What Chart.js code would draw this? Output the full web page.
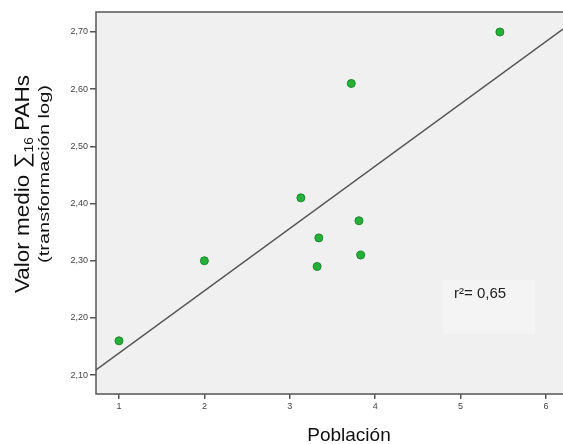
<!DOCTYPE html>
<html>
<head>
<meta charset="utf-8">
<script src="https://cdn.jsdelivr.net/npm/chart.js@4.4.1/dist/chart.umd.min.js"></script>
<style>
  body { margin: 0; background: #fff; }
  #wrap { width: 563px; height: 444px; }
</style>
</head>
<body>
<div id="wrap"><canvas id="scatter" width="563" height="444"></canvas></div>
<script>
// Data
const poblacion = [1, 2, 3.13, 3.32, 3.34, 3.72, 3.81, 3.83, 5.46];
const valorMedio = [2.16, 2.30, 2.41, 2.29, 2.34, 2.61, 2.37, 2.31, 2.70];
// fitted line, end points at the plot edges
const ajusteX = [0.731, 6.199];
const ajusteY = [2.109, 2.705];
const xTicks = [1, 2, 3, 4, 5, 6];
const yTicks = [2.10, 2.20, 2.30, 2.40, 2.50, 2.60, 2.70];
const r2Label = 'r²= 0,65';

const FONT = '"Liberation Sans", Arial, sans-serif';

// draw text centred on 0 and stretched to a given width
function fitText(ctx, text, width, y) {
    const w = ctx.measureText(text).width;
    ctx.save();
    ctx.scale(width / w, 1);
    ctx.textAlign = 'center';
    ctx.fillText(text, 0, y);
    ctx.restore();
}

const framePlugin = {
    id: 'frame',
    beforeDraw(chart) {
        const { ctx, chartArea: a } = chart;
        ctx.save();
        ctx.fillStyle = '#f0f0f0';
        ctx.fillRect(a.left, a.top, a.right - a.left, a.bottom - a.top);
        ctx.restore();
    },
    beforeDatasetsDraw(chart) {
        const { ctx } = chart;
        // faint box behind the r² label
        ctx.save();
        ctx.fillStyle = '#f4f4f4';
        ctx.fillRect(443, 280, 92, 54);
        ctx.restore();
    },
    afterDraw(chart) {
        const { ctx, chartArea: a } = chart;
        ctx.save();
        // frame: left, top, bottom (right side is cut off)
        ctx.strokeStyle = '#555';
        ctx.lineWidth = 1.5;
        ctx.beginPath();
        ctx.moveTo(a.right + 2, a.top);
        ctx.lineTo(a.left, a.top);
        ctx.lineTo(a.left, a.bottom);
        ctx.lineTo(a.right + 2, a.bottom);
        ctx.stroke();

        // r² label
        ctx.fillStyle = '#222';
        ctx.font = '15px ' + FONT;
        ctx.textAlign = 'left';
        ctx.textBaseline = 'middle';
        ctx.fillText(r2Label, 454, 294);

        // x title
        ctx.fillStyle = '#111';
        ctx.font = '19px ' + FONT;
        ctx.textAlign = 'center';
        ctx.textBaseline = 'middle';
        ctx.fillText('Población', 349, 436);

        // y title, first line with subscript
        ctx.save();
        ctx.translate(21, 184);
        ctx.rotate(-Math.PI / 2);
        const p1 = 'Valor medio ∑', p2 = '16', p3 = ' PAHs';
        ctx.font = '21px ' + FONT;
        const w1 = ctx.measureText(p1).width;
        const w3 = ctx.measureText(p3).width;
        ctx.font = '13px ' + FONT;
        const w2 = ctx.measureText(p2).width;
        const k = 218 / (w1 + w2 + w3);
        ctx.scale(k, 1);
        const x0 = -(w1 + w2 + w3) / 2;
        ctx.textAlign = 'left';
        ctx.textBaseline = 'alphabetic';
        ctx.font = '21px ' + FONT;
        ctx.fillText(p1, x0, 8);
        ctx.font = '13px ' + FONT;
        ctx.fillText(p2, x0 + w1, 12);
        ctx.font = '21px ' + FONT;
        ctx.fillText(p3, x0 + w1 + w2, 8);
        ctx.restore();

        // y title, second line
        ctx.save();
        ctx.translate(45, 174);
        ctx.rotate(-Math.PI / 2);
        ctx.font = '15px ' + FONT;
        ctx.textBaseline = 'middle';
        fitText(ctx, '(transformación log)', 178, 0);
        ctx.restore();

        ctx.restore();
    }
};

new Chart(document.getElementById('scatter'), {
    type: 'scatter',
    data: {
        datasets: [
            {
                label: 'Ajuste',
                type: 'line',
                data: ajusteX.map((x, i) => ({ x: x, y: ajusteY[i] })),
                borderColor: '#555',
                borderWidth: 1.5,
                pointRadius: 0,
                fill: false,
                order: 2
            },
            {
                label: 'Poblaciones',
                data: poblacion.map((x, i) => ({ x: x, y: valorMedio[i] })),
                backgroundColor: '#25b03a',
                borderColor: '#1b8a2b',
                borderWidth: 1,
                pointRadius: 4,
                order: 1
            }
        ]
    },
    options: {
        responsive: false,
        animation: false,
        layout: { autoPadding: false, padding: { top: 12, right: 0, left: 0, bottom: 0 } },
        plugins: {
            legend: { display: false },
            tooltip: { enabled: false }
        },
        scales: {
            x: {
                type: 'linear',
                min: 0.731,
                max: 6.199,
                afterBuildTicks: scale => { scale.ticks = xTicks.map(v => ({ value: v })); },
                afterFit: scale => {
                    scale.height = 50;
                    scale.paddingLeft = 0;
                    scale.paddingRight = 0;
                },
                border: { display: false },
                grid: { drawOnChartArea: false, tickLength: 5, color: '#555', lineWidth: 1.5 },
                ticks: {
                    padding: 2,
                    color: '#444',
                    font: { size: 9, family: FONT },
                    callback: v => String(v)
                }
            },
            y: {
                min: 2.067,
                max: 2.735,
                afterBuildTicks: scale => { scale.ticks = yTicks.map(v => ({ value: v })); },
                afterFit: scale => {
                    scale.width = 96;
                    scale.paddingTop = 0;
                    scale.paddingBottom = 0;
                },
                border: { display: false },
                grid: { drawOnChartArea: false, tickLength: 6, color: '#555', lineWidth: 1.5 },
                ticks: {
                    padding: 2,
                    color: '#444',
                    font: { size: 9, family: FONT },
                    callback: v => v.toFixed(2).replace('.', ',')
                }
            }
        }
    },
    plugins: [framePlugin]
});
</script>
</body>
</html>
